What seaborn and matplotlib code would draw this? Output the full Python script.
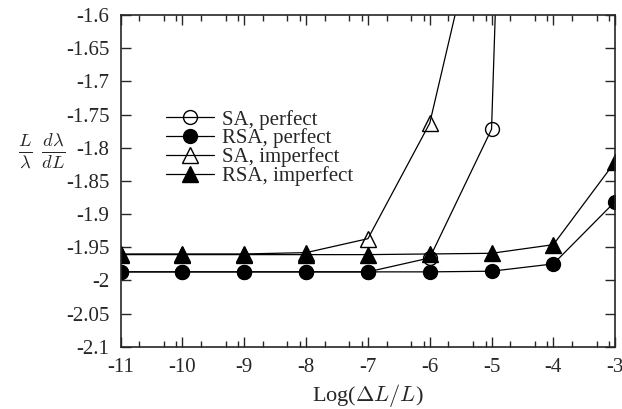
import numpy as np
import pandas as pd
import seaborn as sns
import matplotlib
matplotlib.use("Agg")
import matplotlib.pyplot as plt
from matplotlib.ticker import FixedLocator

x_vals = [-11, -10, -9, -8, -7, -6, -5, -4, -3]
sa_perfect = [-1.987, -1.987, -1.987, -1.987, -1.987, -1.966, -1.772, 1.1, None]
rsa_perfect = [-1.987, -1.987, -1.987, -1.987, -1.987, -1.987, -1.986, -1.975, -1.881]
sa_imperfect = [-1.960, -1.960, -1.960, -1.958, -1.937, -1.763, -1.365, None, None]
rsa_imperfect = [-1.961, -1.961, -1.961, -1.961, -1.961, -1.960, -1.959, -1.946, -1.821]

y_ticks = [-2.1, -2.05, -2.0, -1.95, -1.9, -1.85, -1.8, -1.75, -1.7, -1.65, -1.6]
y_tick_labels = ["-2.1", "-2.05", "-2", "-1.95", "-1.9", "-1.85", "-1.8", "-1.75", "-1.7", "-1.65", "-1.6"]
x_ticks = [-11, -10, -9, -8, -7, -6, -5, -4, -3]

sns.set_style("ticks")
plt.rcParams["font.family"] = ["Liberation Serif", "DejaVu Serif"]
plt.rcParams["mathtext.fontset"] = "cm"

fig = plt.figure(figsize=(6.22, 4.09), dpi=100)
ax = fig.add_axes([0.194, 0.152, 0.795, 0.811])

series = [
    ("SA, perfect", sa_perfect, "o", "none", 10),
    ("RSA, perfect", rsa_perfect, "o", "black", 10),
    ("SA, imperfect", sa_imperfect, "^", "none", 11.5),
    ("RSA, imperfect", rsa_imperfect, "^", "black", 11.5),
]
for label, vals, mk, fc, ms in series:
    df = pd.DataFrame({"x": x_vals, "y": vals}).dropna()
    sns.lineplot(data=df, x="x", y="y", ax=ax, color="black", lw=0.9,
                 marker=mk, markersize=ms, markerfacecolor=fc,
                 markeredgecolor="black", markeredgewidth=1.0,
                 label=label, clip_on=True)

ax.set_xlim(-11, -3)
ax.set_ylim(-2.1, -1.6)
ax.set_yticks(y_ticks)
ax.set_yticklabels(y_tick_labels)
ax.set_xticks(x_ticks)
ax.set_xticklabels([str(v) for v in x_ticks])
minor = []
for base in range(-11, -3):
    for f in (np.log10(2), np.log10(5), np.log10(8)):
        minor.append(base + f)
ax.xaxis.set_minor_locator(FixedLocator(minor))
ax.tick_params(axis="both", which="major", direction="in", length=7, width=1,
               top=True, right=True, labelsize=15, pad=8)
ax.tick_params(axis="x", which="minor", direction="in", length=4, width=1,
               top=True, bottom=True)
for s in ax.spines.values():
    s.set_visible(True)
    s.set_linewidth(1.2)

ax.set_xlabel(r"Log($\Delta L/L$)", fontsize=16, labelpad=4)
ax.set_ylabel(r"$\frac{L}{\lambda}\ \frac{d\lambda}{dL}$", fontsize=19,
              rotation=0, labelpad=30)
ax.yaxis.set_label_coords(-0.16, 0.53)

leg = ax.legend(loc="upper left", bbox_to_anchor=(0.075, 0.74), frameon=False,
                fontsize=15, handlelength=2.3, handletextpad=0.4,
                labelspacing=-0.05, borderaxespad=0)

fig.savefig("out.png", dpi=100)
